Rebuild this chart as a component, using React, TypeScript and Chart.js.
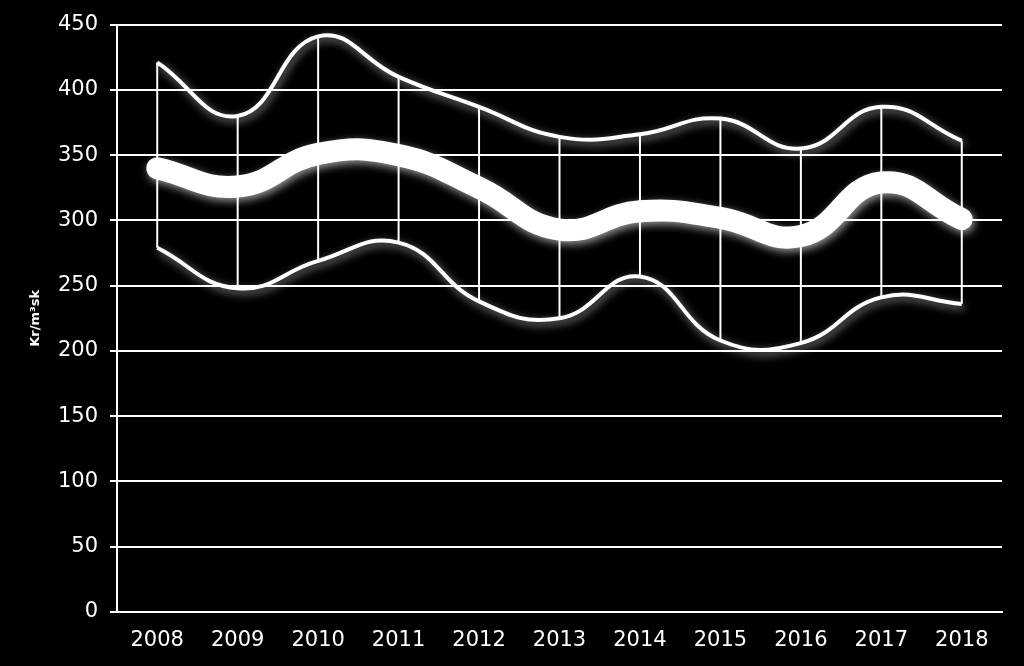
import React, { useEffect, useRef } from "react";
import { Chart, registerables } from "chart.js";

Chart.register(...registerables);

const years = ["2008", "2009", "2010", "2011", "2012", "2013", "2014", "2015", "2016", "2017", "2018"];
const upperValues = [421, 380, 441, 410, 387, 364, 366, 378, 355, 387, 361];
const middleValues = [340, 326, 351, 350, 325, 293, 307, 302, 288, 329, 301];
const lowerValues = [279, 248, 269, 283, 238, 225, 257, 208, 206, 241, 236];
const yAxisTitle = "Kr/m³sk";

const glowPlugin = {
  id: "glow",
  beforeDatasetDraw(chart: any) {
    const ctx = chart.ctx;
    ctx.save();
    ctx.shadowColor = "rgba(255,255,255,0.6)";
    ctx.shadowBlur = 8;
    ctx.shadowOffsetX = 2;
    ctx.shadowOffsetY = 3;
  },
  afterDatasetDraw(chart: any) {
    chart.ctx.restore();
  },
};

const highLowPlugin = {
  id: "highLow",
  beforeDatasetsDraw(chart: any) {
    const ctx = chart.ctx;
    const x = chart.scales.x;
    const y = chart.scales.y;
    ctx.save();
    ctx.strokeStyle = "#ffffff";
    ctx.lineWidth = 2;
    years.forEach((_, i) => {
      const px = x.getPixelForValue(i);
      ctx.beginPath();
      ctx.moveTo(px, y.getPixelForValue(upperValues[i]));
      ctx.lineTo(px, y.getPixelForValue(lowerValues[i]));
      ctx.stroke();
    });
    ctx.restore();
  },
};

export default function App() {
  const canvasRef = useRef<HTMLCanvasElement | null>(null);

  useEffect(() => {
    document.body.style.margin = "0";
    document.body.style.background = "#000";
    const canvas = canvasRef.current;
    if (!canvas) return;
    const chart = new Chart(canvas, {
      type: "line",
      data: {
        labels: years,
        datasets: [
          {
            label: "Upper",
            data: upperValues,
            borderColor: "#ffffff",
            borderWidth: 4,
            pointRadius: 0,
            tension: 0.45,
            clip: false as any,
          },
          {
            label: "Lower",
            data: lowerValues,
            borderColor: "#ffffff",
            borderWidth: 4,
            pointRadius: 0,
            tension: 0.45,
            clip: false as any,
          },
          {
            label: "Middle",
            data: middleValues,
            borderColor: "#ffffff",
            borderWidth: 22,
            borderCapStyle: "round",
            borderJoinStyle: "round",
            pointRadius: 0,
            tension: 0.45,
            clip: false as any,
          },
        ],
      },
      options: {
        animation: false,
        responsive: false,
        maintainAspectRatio: false,
        layout: { padding: { left: 28, right: 22, top: 11, bottom: 0 } },
        plugins: {
          legend: { display: false },
          tooltip: { enabled: false },
        },
        scales: {
          x: {
            offset: true,
            afterFit(scale: any) {
              scale.height = 54;
            },
            grid: { display: false, drawTicks: false },
            border: { display: true, color: "#ffffff", width: 2 },
            ticks: {
              color: "#ffffff",
              padding: 16,
              font: { family: "DejaVu Sans", size: 21 },
              maxRotation: 0,
            },
          },
          y: {
            min: 0,
            max: 450,
            afterFit(scale: any) {
              scale.width = 89;
            },
            grid: {
              color: "#ffffff",
              lineWidth: 2,
              tickLength: 7,
              drawTicks: true,
            },
            border: { display: true, color: "#ffffff", width: 2 },
            ticks: {
              stepSize: 50,
              color: "#ffffff",
              padding: 12,
              font: { family: "DejaVu Sans", size: 21 },
            },
            title: {
              display: true,
              text: yAxisTitle,
              color: "#ffffff",
              padding: { top: 0, bottom: 0 },
              font: { family: "DejaVu Sans", size: 13, weight: "bold" },
            },
          },
        },
      },
      plugins: [highLowPlugin, glowPlugin],
    });
    return () => chart.destroy();
  }, []);

  return (
    <div style={{ width: 1024, height: 666, background: "#000" }}>
      <canvas ref={canvasRef} width={1024} height={666} style={{ display: "block" }} />
    </div>
  );
}
